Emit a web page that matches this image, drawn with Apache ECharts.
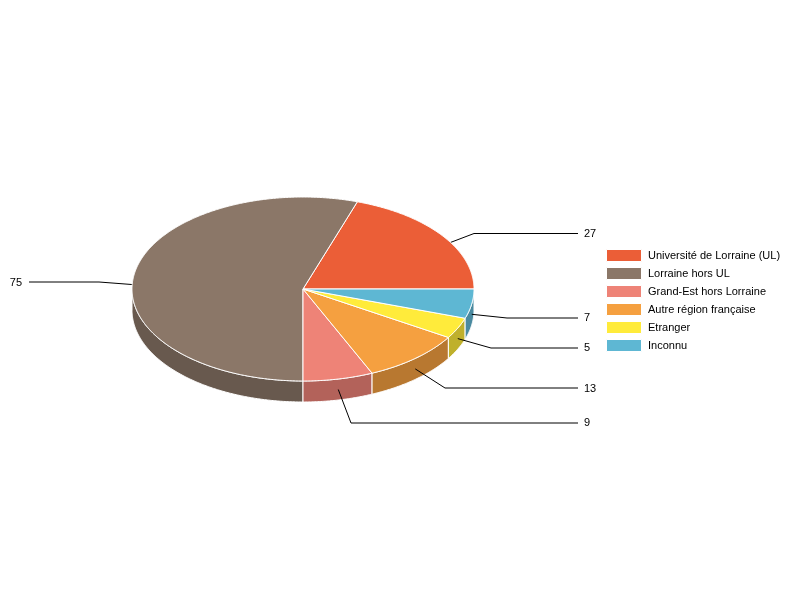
<!DOCTYPE html>
<html>
<head>
<meta charset="utf-8">
<style>html,body{margin:0;padding:0;background:#fff}#c{width:800px;height:600px}</style>
<script src="https://cdn.jsdelivr.net/npm/echarts@6/dist/echarts.min.js"></script>
</head>
<body>
<div id="c"></div>
<script>
const categories = ['Université de Lorraine (UL)', 'Lorraine hors UL', 'Grand-Est hors Lorraine', 'Autre région française', 'Etranger', 'Inconnu'];
const values = [27, 75, 9, 13, 5, 7];
const topColors = ['#EB5E37', '#8B7768', '#EE8377', '#F5A040', '#FFEB3B', '#5EB7D3'];
const wallColors = ['#B04629', '#68594E', '#B3625A', '#B87830', '#BFB02C', '#4A8AA0'];
const elbowX = [474, 99, 351, 445, 491, 507];
const labelLineY = [233.5, 282, 423, 388, 348, 318];
const labelTextY = [234, 283, 423, 389, 348, 318];

const cx = 303, cy = 289, rx = 171, ry = 92, depth = 21;
const labelRightX = 578, labelLeftX = 29, labelGapRight = 6, labelGapLeft = 7;
const FONT = '11px "Liberation Sans", Arial, sans-serif';

const total = values.reduce((a, b) => a + b, 0);
const rim = (deg, dy) => {
  const t = deg * Math.PI / 180;
  return [cx + rx * Math.cos(t), cy - ry * Math.sin(t) + (dy || 0)];
};
const arc = (a0, a1, dy) => {
  const n = Math.max(2, Math.ceil(Math.abs(a1 - a0) * 2));
  const pts = [];
  for (let i = 0; i <= n; i++) pts.push(rim(a0 + (a1 - a0) * i / n, dy));
  return pts;
};
let running = 0;
const slices = values.map(v => {
  const a0 = running / total * 360;
  running += v;
  return [a0, running / total * 360];
});

function renderItem(params) {
  const i = params.seriesIndex;
  const [a0, a1] = slices[i];
  const mid = (a0 + a1) / 2;
  const children = [];
  // Front wall: only the portion of the arc in the lower half of the ellipse
  const w0 = Math.max(a0, 180), w1 = Math.min(a1, 360);
  if (w1 > w0) {
    children.push({
      type: 'polygon', z2: 10 + i,
      shape: { points: arc(w0, w1, 0).concat(arc(w1, w0, depth)) },
      style: { fill: wallColors[i], stroke: '#fff', lineWidth: 1, lineJoin: 'round' }
    });
  }
  // Leader line, drawn between the walls and the top faces
  const anchor = rim(mid, depth / 2);
  const onRight = Math.cos(mid * Math.PI / 180) >= 0;
  const endX = onRight ? labelRightX : labelLeftX;
  children.push({
    type: 'polyline', z2: 100,
    shape: { points: [anchor, [elbowX[i], labelLineY[i]], [endX, labelLineY[i]]] },
    style: { stroke: '#000', lineWidth: 1, fill: null }
  });
  children.push({
    type: 'text', z2: 300,
    style: {
      x: onRight ? endX + labelGapRight : endX - labelGapLeft,
      y: labelTextY[i],
      text: String(values[i]),
      font: FONT, fill: '#000',
      align: onRight ? 'left' : 'right', verticalAlign: 'middle'
    }
  });
  // Top face
  children.push({
    type: 'polygon', z2: 200 + i,
    shape: { points: [[cx, cy]].concat(arc(a0, a1, 0)) },
    style: { fill: topColors[i], stroke: '#fff', lineWidth: 1, lineJoin: 'round' }
  });
  return { type: 'group', children };
}

const chart = echarts.init(document.getElementById('c'), null, { renderer: 'canvas' });
chart.setOption({
  animation: false,
  backgroundColor: '#fff',
  tooltip: { show: false },
  legend: {
    data: categories.map(name => ({ name, icon: 'rect' })),
    orient: 'vertical', left: 606, top: 249,
    itemWidth: 35, itemHeight: 12, itemGap: 5, padding: 0,
    selectedMode: false,
    itemStyle: { borderColor: '#fff', borderWidth: 1 },
    textStyle: { color: '#000', fontSize: 11, fontFamily: '"Liberation Sans", Arial, sans-serif', padding: [0, 0, 0, 1.5] }
  },
  series: categories.map((name, i) => ({
    type: 'custom', name, coordinateSystem: 'none',
    renderItem, silent: true,
    itemStyle: { color: topColors[i] },
    data: [values[i]]
  }))
});
</script>
</body>
</html>
